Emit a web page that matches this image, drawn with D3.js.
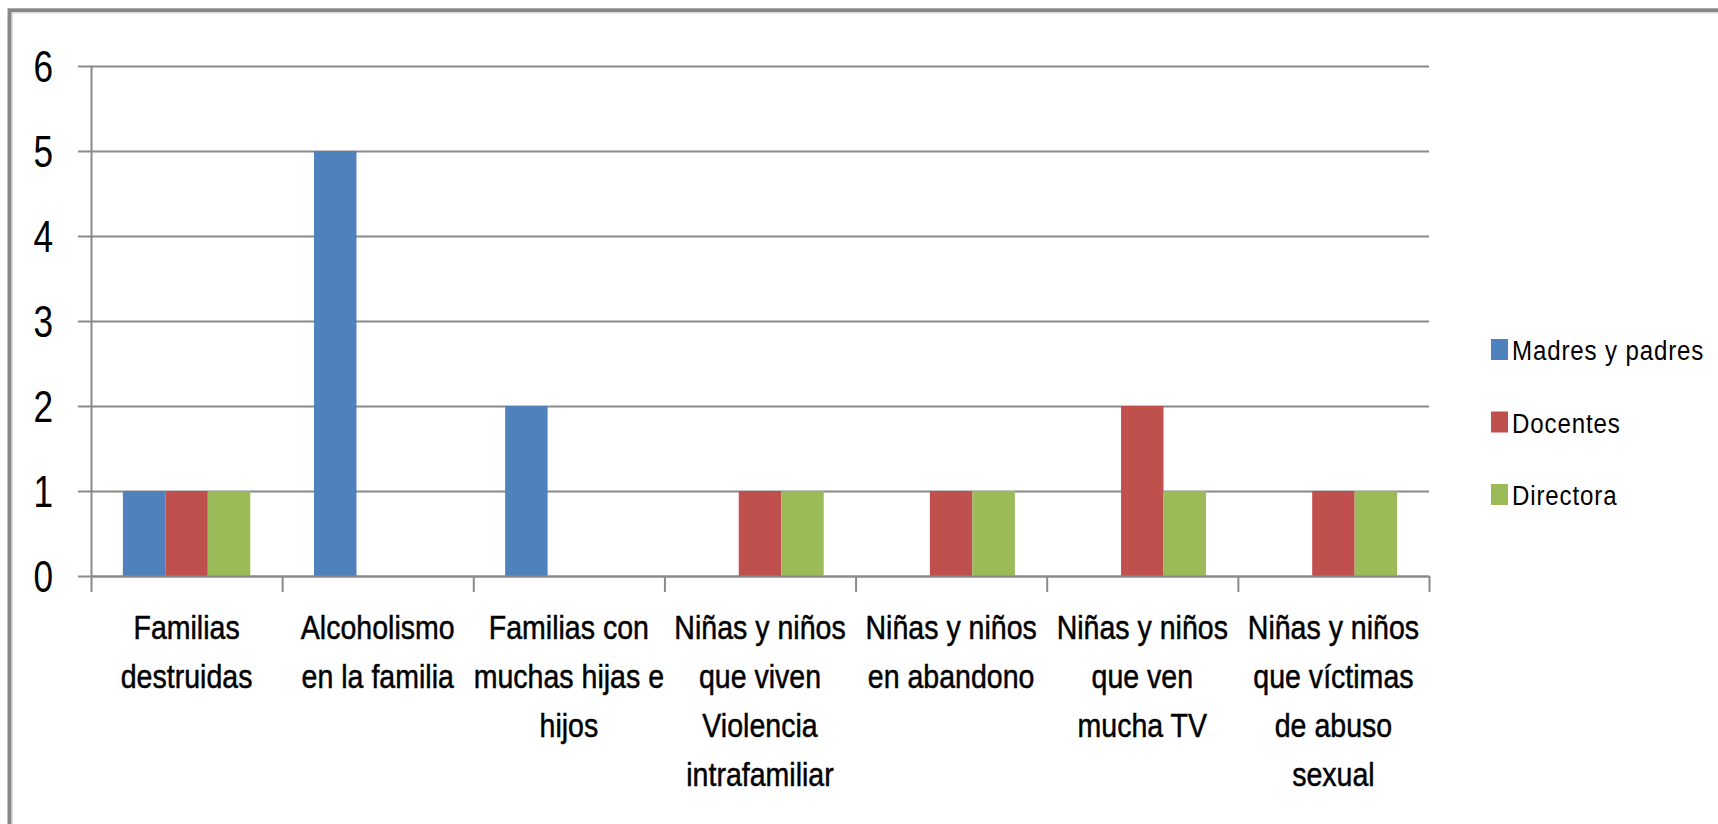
<html>
<head>
<meta charset="utf-8">
<style>
  body { margin: 0; background: #fff; }
  text { font-family: "Liberation Sans", Arial, sans-serif; fill: #000; }
  .grid line { stroke: #8a8a8a; stroke-width: 2; }
  .grid path { display: none; }
  .axis path, .axis line { stroke: #8a8a8a; stroke-width: 2; }
  .cat text { stroke: #000; stroke-width: 0.5px; }
</style>
</head>
<body>
<svg id="chart"></svg>
<script src="https://d3js.org/d3.v7.min.js"></script>
<script>
var categories = [
  ["Familias", "destruidas"],
  ["Alcoholismo", "en la familia"],
  ["Familias con", "muchas hijas e", "hijos"],
  ["Niñas y niños", "que viven", "Violencia", "intrafamiliar"],
  ["Niñas y niños", "en abandono"],
  ["Niñas y niños", "que ven", "mucha TV"],
  ["Niñas y niños", "que víctimas", "de abuso", "sexual"]
];
var seriesNames = ["Madres y padres", "Docentes", "Directora"];
var madresPadres = [1, 5, 2, 0, 0, 0, 0];
var docentes = [1, 0, 0, 1, 1, 2, 1];
var directora = [1, 0, 0, 1, 1, 1, 1];
var colors = ["#4f81bd", "#c0504d", "#9bbb59"];
var yTicks = [0, 1, 2, 3, 4, 5, 6];

var W = 1718, H = 824;
var plotLeft = 91, plotRight = 1429, plotTop = 66, plotBottom = 576;

var svg = d3.select("#chart").attr("width", W).attr("height", H);

// outer frame
svg.append("rect").attr("x", 9.5).attr("y", 10.3).attr("width", W + 20).attr("height", H + 20)
  .attr("fill", "none").attr("stroke", "#878787").attr("stroke-width", 4);
svg.append("rect").attr("x", 12.5).attr("y", 13).attr("width", W + 20).attr("height", H + 20)
  .attr("fill", "none").attr("stroke", "#dcdcdc").attr("stroke-width", 1.2);

var catIdx = d3.range(categories.length);
var x0 = d3.scaleBand().domain(catIdx).range([plotLeft, plotRight]).padding(0);
var x1 = d3.scaleBand().domain(seriesNames).range([0, x0.bandwidth()]).paddingInner(0).paddingOuter(0.75);
var xl = d3.scaleLinear().domain([0, categories.length]).range([plotLeft, plotRight]);
var y = d3.scaleLinear().domain([0, 6]).range([plotBottom, plotTop]);

// gridlines
svg.append("g").attr("class", "grid").attr("transform", "translate(" + plotLeft + ",0)")
  .call(d3.axisLeft(y).tickValues(yTicks).tickSize(-(plotRight - plotLeft)).tickFormat(""));

// y axis
var yAxis = svg.append("g").attr("class", "axis").attr("transform", "translate(" + plotLeft + ",0)")
  .call(d3.axisLeft(y).tickValues(yTicks).tickSizeInner(13).tickSizeOuter(0).tickFormat(d3.format("d")));
yAxis.selectAll("text")
  .attr("x", -38 / 0.8).attr("dy", "0.36em")
  .attr("transform", "scale(0.8,1)")
  .style("font-size", "44px");

// bars
var series = [madresPadres, docentes, directora];
series.forEach(function (vals, s) {
  svg.append("g").selectAll("rect")
    .data(vals)
    .enter().append("rect")
    .attr("x", function (d, i) { return x0(i) + x1(seriesNames[s]); })
    .attr("width", x1.bandwidth())
    .attr("y", function (d) { return y(d); })
    .attr("height", function (d) { return y(0) - y(d); })
    .attr("fill", colors[s]);
});

// x axis
svg.append("g").attr("class", "axis").attr("transform", "translate(0," + plotBottom + ")")
  .call(d3.axisBottom(xl).tickValues(d3.range(categories.length + 1)).tickSizeInner(16).tickSizeOuter(0).tickFormat(""));

// category labels
var lab = svg.append("g").attr("class", "cat").selectAll("g")
  .data(categories)
  .enter().append("g")
  .attr("transform", function (d, i) { return "translate(" + (x0(i) + x0.bandwidth() / 2) + ",639) scale(0.84,1)"; });
lab.selectAll("text")
  .data(function (d) { return d; })
  .enter().append("text")
  .attr("y", function (d, j) { return j * 49; })
  .attr("text-anchor", "middle")
  .style("font-size", "34px")
  .text(function (d) { return d; });

// legend
var leg = svg.append("g").selectAll("g")
  .data(seriesNames)
  .enter().append("g")
  .attr("transform", function (d, i) { return "translate(1491," + (339 + i * 72.5) + ")"; });
leg.append("rect").attr("width", 17).attr("height", 21)
  .attr("fill", function (d, i) { return colors[i]; });
leg.append("text")
  .attr("transform", "translate(21,21) scale(0.86,1)")
  .style("font-size", "28px")
  .style("letter-spacing", "1px")
  .text(function (d) { return d; });
</script>
</body>
</html>
